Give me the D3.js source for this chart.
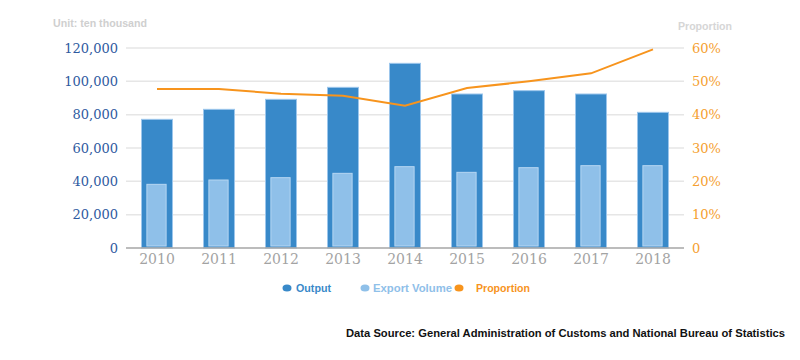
<!DOCTYPE html>
<html><head><meta charset="utf-8">
<script src="https://cdn.jsdelivr.net/npm/d3@7"></script>
<style>body{margin:0;background:#fff}svg{display:block}</style>
</head><body>
<svg id="chart" width="800" height="360"></svg>
<script>
const years = ["2010","2011","2012","2013","2014","2015","2016","2017","2018"];
const output = [77200, 83200, 89200, 96400, 110800, 92400, 94400, 92400, 81400];
const exportVolume = [38200, 40800, 42200, 44800, 48800, 45400, 48200, 49400, 49400];
const proportion = [47.7, 47.7, 46.3, 45.7, 42.7, 48.0, 50.0, 52.4, 59.6];
const leftTicks = [0, 20000, 40000, 60000, 80000, 100000, 120000];
const rightTicks = [0, 10, 20, 30, 40, 50, 60];

const svg = d3.select("#chart");
const pLeft = 126, pRight = 684, pTop = 48, pBottom = 248;

const x = d3.scaleBand().domain(years).range([pLeft, pRight]).paddingInner(0).paddingOuter(0);
const yL = d3.scaleLinear().domain([0, 120000]).range([pBottom, pTop]);
const yR = d3.scaleLinear().domain([0, 60]).range([pBottom, pTop]);

// gridlines
svg.append("g").selectAll("line").data(leftTicks.slice(1)).join("line")
  .attr("x1", pLeft).attr("x2", pRight)
  .attr("y1", d => yL(d)).attr("y2", d => yL(d))
  .attr("stroke", "#e6e6e6").attr("stroke-width", 1.5);

// left axis labels
const fmt = d3.format(",");
svg.append("g").selectAll("text").data(leftTicks).join("text")
  .attr("x", 118).attr("y", d => yL(d)).attr("dy", "0.35em")
  .attr("text-anchor", "end")
  .attr("font-family", "DejaVu Serif").attr("font-size", 13)
  .attr("fill", "#2e5aa0")
  .text(d => fmt(d));

// right axis labels
svg.append("g").selectAll("text").data(rightTicks).join("text")
  .attr("x", 692).attr("y", d => yR(d)).attr("dy", "0.35em")
  .attr("text-anchor", "start")
  .attr("font-family", "DejaVu Serif").attr("font-size", 13)
  .attr("fill", "#f5a030")
  .text(d => d === 0 ? "0" : d + "%");

// bars
const bw = x.bandwidth();
const outerW = bw * 0.5, innerW = bw * 0.31;
svg.append("g").selectAll("rect").data(years).join("rect")
  .attr("x", (d) => x(d) + (bw - outerW) / 2)
  .attr("width", outerW)
  .attr("y", (d, i) => yL(output[i]))
  .attr("height", (d, i) => pBottom - yL(output[i]))
  .attr("fill", "#3889c9").attr("stroke", "#9cc6ec").attr("stroke-width", 1);

svg.append("g").selectAll("rect").data(years).join("rect")
  .attr("x", (d) => x(d) + (bw - innerW) / 2 - 0.5)
  .attr("width", innerW)
  .attr("y", (d, i) => yL(exportVolume[i]))
  .attr("height", (d, i) => pBottom - 2 - yL(exportVolume[i]))
  .attr("fill", "#8fc0e9").attr("stroke", "#b5d6f2").attr("stroke-width", 1);

// baseline
svg.append("line").attr("x1", pLeft).attr("x2", pRight).attr("y1", pBottom).attr("y2", pBottom)
  .attr("stroke", "#a6a6a6").attr("stroke-width", 1.5);

// x labels
svg.append("g").selectAll("text").data(years).join("text")
  .attr("x", d => x(d) + bw / 2).attr("y", 259).attr("dy", "0.35em")
  .attr("text-anchor", "middle")
  .attr("font-family", "DejaVu Serif").attr("font-size", 14)
  .attr("fill", "#a3a3a3")
  .text(d => d);

// line
const line = d3.line().x((d, i) => x(years[i]) + bw / 2).y(d => yR(d));
svg.append("path").datum(proportion).attr("d", line)
  .attr("fill", "none").attr("stroke", "#f7941d").attr("stroke-width", 2);

// titles
svg.append("text").attr("x", 53).attr("y", 27)
  .attr("font-family", "Liberation Sans").attr("font-weight", "bold").attr("font-size", 11)
  .attr("fill", "#cfcfcf").attr("textLength", 94).attr("lengthAdjust", "spacingAndGlyphs")
  .text("Unit: ten thousand");
svg.append("text").attr("x", 678).attr("y", 30)
  .attr("font-family", "Liberation Sans").attr("font-weight", "bold").attr("font-size", 11)
  .attr("fill", "#d6d6d6").attr("textLength", 54).attr("lengthAdjust", "spacingAndGlyphs")
  .text("Proportion");

// legend
const legend = [
  {label: "Output", color: "#3889c9", cx: 287, tx: 296, w: 35},
  {label: "Export Volume", color: "#8fc0e9", cx: 365, tx: 373, w: 79},
  {label: "Proportion", color: "#f7941d", cx: 459, tx: 476, w: 54}
];
const lg = svg.append("g").selectAll("g").data(legend).join("g");
lg.append("ellipse").attr("cx", d => d.cx).attr("cy", 288).attr("rx", 4.5).attr("ry", 3.5)
  .attr("fill", d => d.color);
lg.append("text").attr("x", d => d.tx).attr("y", 292)
  .attr("font-family", "Liberation Sans").attr("font-weight", "bold").attr("font-size", 11)
  .attr("fill", d => d.color)
  .attr("textLength", d => d.w).attr("lengthAdjust", "spacingAndGlyphs")
  .text(d => d.label);

// source
svg.append("text").attr("x", 346).attr("y", 337)
  .attr("font-family", "Liberation Sans").attr("font-weight", "bold").attr("font-size", 11)
  .attr("fill", "#111").attr("textLength", 439).attr("lengthAdjust", "spacingAndGlyphs")
  .text("Data Source: General Administration of Customs and National Bureau of Statistics");
</script>
</body></html>
